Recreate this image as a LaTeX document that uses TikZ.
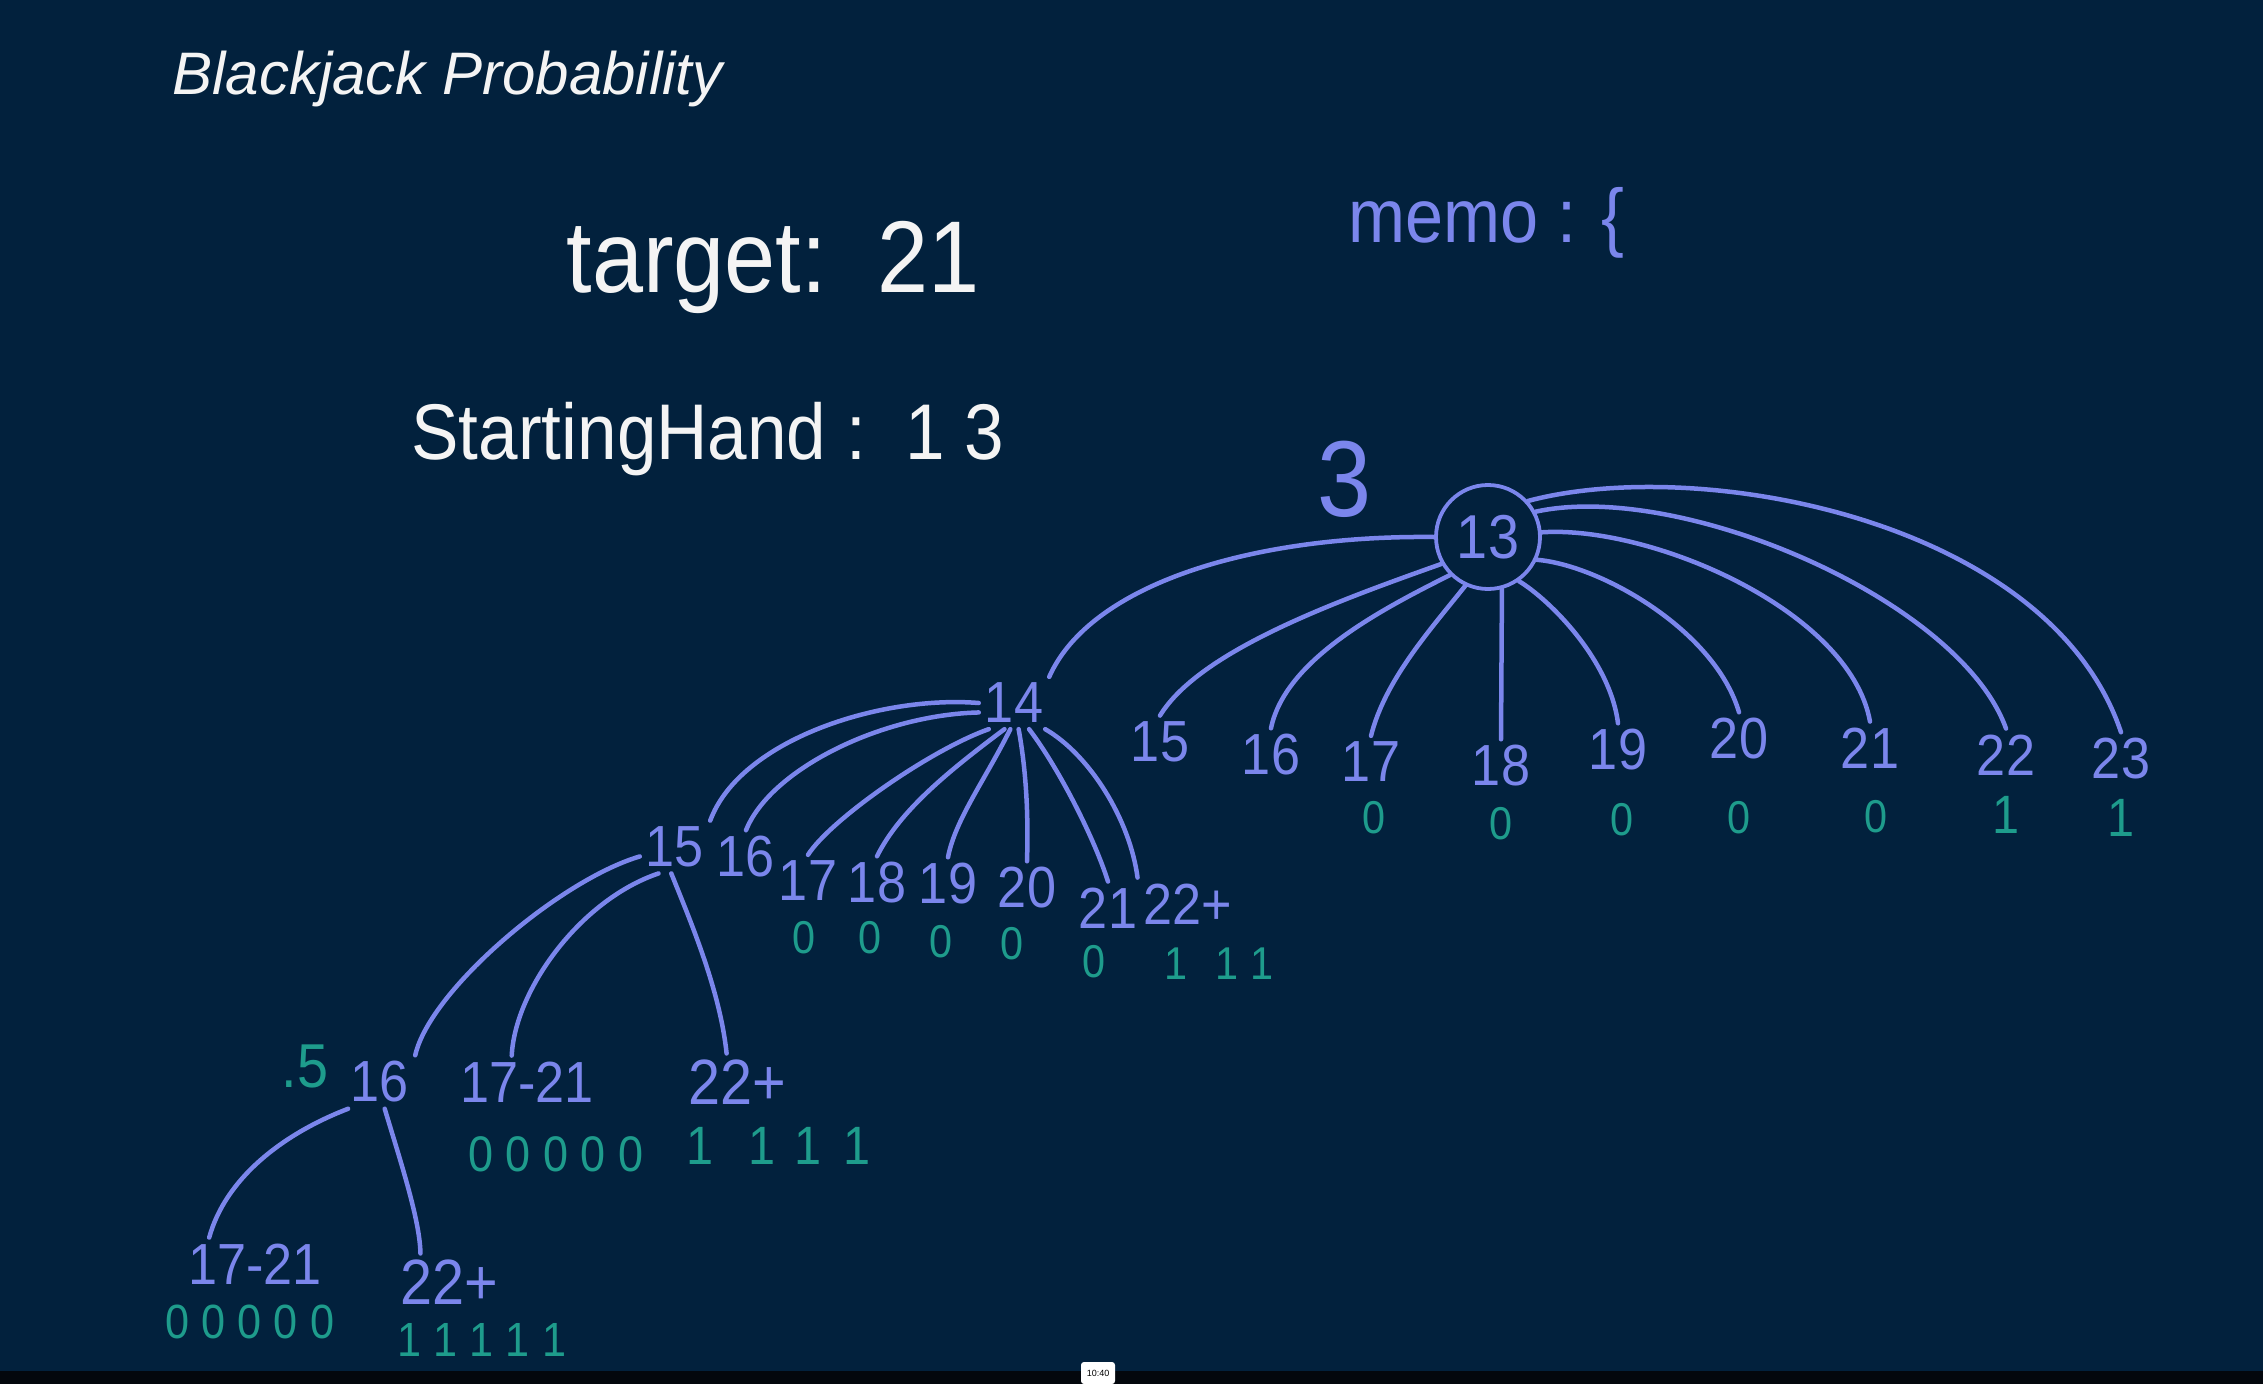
\documentclass[tikz,border=0pt]{standalone}
\usepackage{fontspec}
\setmainfont{Liberation Sans}
\newfontfamily\handfont[FakeStretch=0.9]{Liberation Sans}
\usetikzlibrary{positioning}
\definecolor{bjNavy}{HTML}{02213D}
\definecolor{bjBar}{HTML}{03070D}
\definecolor{bjBlue}{HTML}{7B86EC}
\definecolor{bjTeal}{HTML}{1E9C8C}
\definecolor{bjChalk}{HTML}{F4F4F4}

\begin{document}
\begin{tikzpicture}[x=1pt,y=-1pt,line cap=round,line join=round]
\path[fill=bjNavy] (0,0) rectangle (2263,1384);
\path[fill=bjBar] (0,1371) rectangle (2263,1384);
\tikzset{chalk/.style={text=bjChalk,font=\handfont\fontsize{#1}{#1}\selectfont},lbl/.style={text=bjBlue,inner sep=6pt,font=\handfont\fontsize{58}{60}\selectfont},val/.style={text=bjTeal,inner sep=1pt,font=\handfont\fontsize{#1}{#1}\selectfont},val/.default=46,branch/.style={draw=bjBlue,line width=4.5pt}}
% heading and givens
\node[anchor=base west,text=bjChalk,font=\itshape\fontsize{60}{72}\selectfont] (title) at (169,94) {Blackjack Probability};
\node[anchor=base west,chalk=102] (target) at (563,292) {target:\ \ 21};
\node[anchor=base west,chalk=79] (start) at (408,459) {StartingHand :\ \ 1\ 3};
\node[anchor=base west,text=bjBlue,font=\handfont\fontsize{76}{76}\selectfont] (memo) at (1345,242) {memo : \{};
\node[text=bjBlue,font=\handfont\fontsize{108}{108}\selectfont] (three) at (1345,479) {3};
% root and first level
\node[draw=bjBlue,line width=3.8pt,circle,minimum size=104pt,inner sep=0pt,text=bjBlue,font=\handfont\fontsize{62}{62}\selectfont] (n13) at (1488,537) {13};
\node[lbl] (a14) at (1014,703) {14}; \node[lbl] (a15) at (1160,742) {15}; \node[lbl] (a16) at (1271,755) {16};
\node[lbl] (a17) at (1371,762) {17}; \node[lbl] (a18) at (1501,766) {18}; \node[lbl] (a19) at (1618,750) {19};
\node[lbl] (a20) at (1739,739) {20}; \node[lbl] (a21) at (1870,748) {21}; \node[lbl] (a22) at (2006,755) {22}; \node[lbl] (a23) at (2121,759) {23};
\node[val] (v17) at (1374,818) {0}; \node[val] (v18) at (1501,824) {0}; \node[val] (v19) at (1622,820) {0}; \node[val] (v20) at (1739,818) {0};
\node[val] (v21) at (1876,817) {0}; \node[val=54] (v22) at (2006,815) {1}; \node[val=54] (v23) at (2121,818) {1};
\draw[branch] (n13.180) .. controls (1250,535) and (1090,585) .. (a14.north east);
\draw[branch] (n13.210) .. controls (1340,600) and (1200,650) .. (a15.north);
\draw[branch] (n13.225) .. controls (1380,610) and (1285,660) .. (a16.north);
\draw[branch] (n13.245) .. controls (1430,630) and (1385,680) .. (a17.north);
\draw[branch] (n13.285) -- (a18.north);
\draw[branch] (n13.305) .. controls (1550,600) and (1610,660) .. (a19.north);
\draw[branch] (n13.335) .. controls (1600,565) and (1715,630) .. (a20.north);
\draw[branch] (n13.5) .. controls (1650,525) and (1850,610) .. (a21.north);
\draw[branch] (n13.28) .. controls (1680,480) and (1960,600) .. (a22.north);
\draw[branch] (n13.42) .. controls (1700,455) and (2050,520) .. (a23.north);
% second level, under 14
\node[lbl] (b15) at (675,847) {15}; \node[lbl] (b16) at (746,857) {16}; \node[lbl] (b17) at (808,881) {17}; \node[lbl] (b18) at (877,883) {18};
\node[lbl] (b19) at (948,884) {19}; \node[lbl] (b20) at (1027,888) {20}; \node[lbl] (b21) at (1108,908) {21}; \node[lbl] (b22) at (1188,904) {22+};
\node[val] (w17) at (804,938) {0}; \node[val] (w18) at (870,938) {0}; \node[val] (w19) at (941,942) {0}; \node[val] (w20) at (1012,944) {0};
\node[val] (w21) at (1094,962) {0}; \node[val] (w22) at (1219,964) {1\hspace{28pt}1 1};
\draw[branch] (a14.west) .. controls (880,695) and (740,740) .. (b15.north east);
\draw[branch] (a14.195) .. controls (880,715) and (770,770) .. (b16.north);
\draw[branch] (a14.226) .. controls (930,750) and (830,820) .. (b17.north);
\draw[branch] (a14.250) .. controls (950,770) and (900,810) .. (b18.north);
\draw[branch] (a14.262) .. controls (985,780) and (955,820) .. (b19.north);
\draw[branch] (a14.280) .. controls (1028,780) and (1028,830) .. (b20.north);
\draw[branch] (a14.300) .. controls (1060,770) and (1095,840) .. (b21.north);
\draw[branch] (a14.320) .. controls (1090,755) and (1130,820) .. (b22.north west);
% third level, under 15
\node[lbl] (c16) at (380,1082) {16}; \node[lbl] (c17) at (527,1082) {17-21}; \node[lbl,font=\handfont\fontsize{64}{64}\selectfont] (c22) at (737,1082) {22+};
\node[val=62] (half) at (305,1066) {.5};
\node[val=50] (x17) at (556,1154) {0 0 0 0 0}; \node[val=54] (x22) at (779,1146) {1\hspace{35pt}1\hspace{19pt}1\hspace{22pt}1};
\draw[branch] (b15.195) .. controls (560,880) and (430,990) .. (c16.north east);
\draw[branch] (b15.238) .. controls (580,900) and (515,990) .. (c17.120);
\draw[branch] (b15.262) .. controls (690,920) and (720,990) .. (c22.110);
% fourth level, under 16
\node[lbl] (d17) at (255,1264) {17-21}; \node[lbl,font=\handfont\fontsize{64}{64}\selectfont] (d22) at (449,1282) {22+};
\node[val=48] (y17) at (250,1322) {0 0 0 0 0}; \node[val=48] (y22) at (482,1340) {1 1 1 1 1};
\draw[branch] (c16.220) .. controls (280,1135) and (225,1180) .. (d17.150);
\draw[branch] (c16.280) .. controls (400,1160) and (420,1220) .. (d22.135);
% player time stamp
\node[fill=white,rounded corners=3pt,inner sep=2pt,minimum width=34pt,minimum height=22pt,font=\fontsize{9}{9}\selectfont] (clock) at (1098,1373) {10:40};
\end{tikzpicture}
\end{document}
